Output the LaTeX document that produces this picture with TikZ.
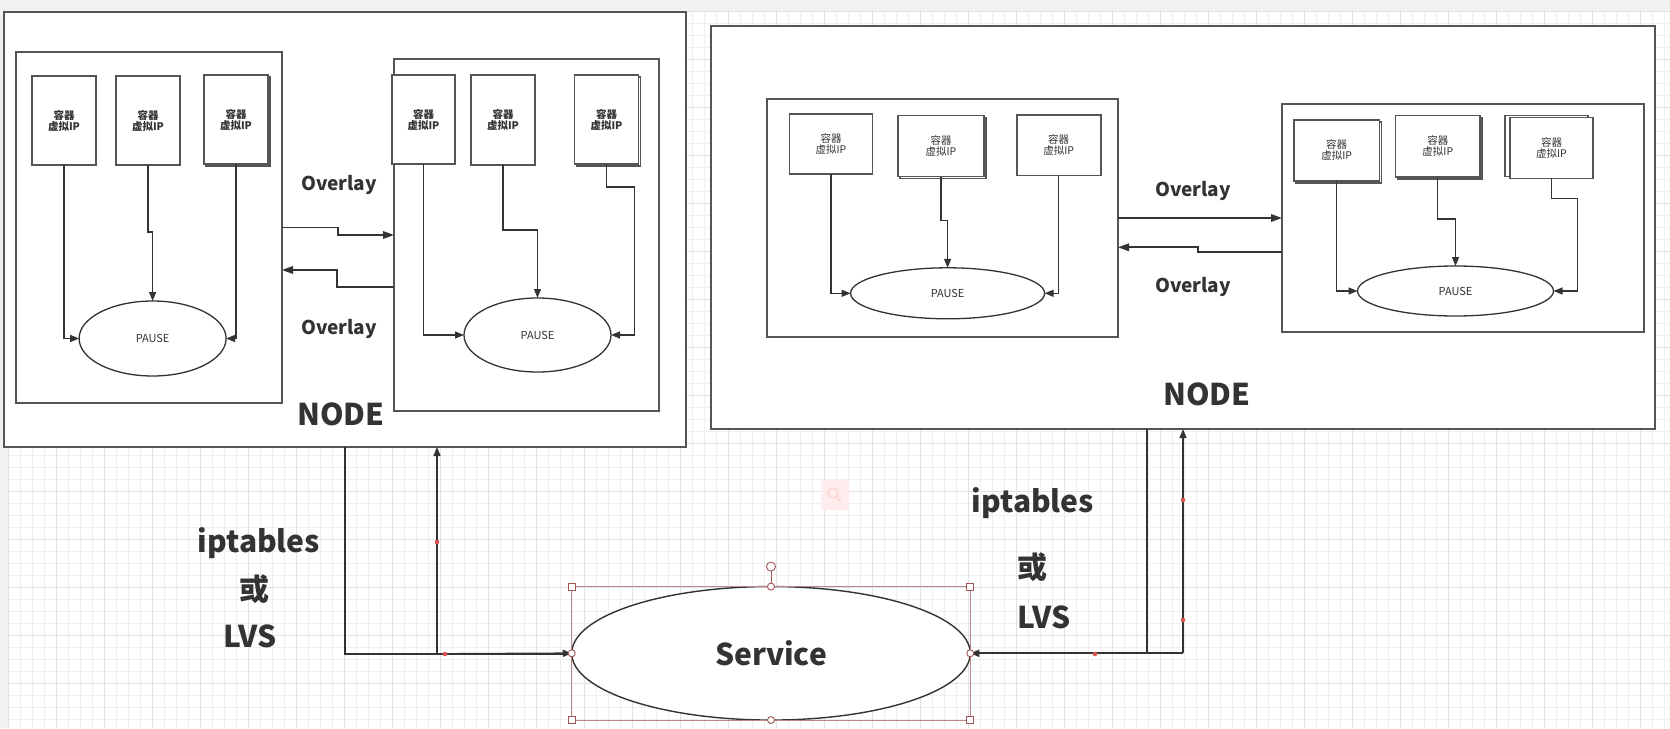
\documentclass[tikz,border=0pt]{standalone}
\usepackage{fontspec}
\setmainfont{Noto Sans CJK SC}
\usetikzlibrary{arrows.meta,shapes.geometric,shadows,calc}

\definecolor{edge}{HTML}{555555}
\definecolor{wire}{HTML}{333333}
\definecolor{ink}{HTML}{333333}
\definecolor{gridmin}{HTML}{EFEFEF}
\definecolor{gridmaj}{HTML}{E2E2E2}
\definecolor{strip}{HTML}{F1F1F1}
\definecolor{selred}{HTML}{A05555}
\definecolor{dotred}{HTML}{D9534F}

\tikzset{
  box/.style={draw=edge, line width=1.8pt, fill=white, inner sep=0pt, outer sep=0pt},
  ctr/.style={box, line width=1.6pt, align=center, text=ink,
    font=\bfseries\fontsize{10.5}{11}\selectfont},
  ctrlight/.style={ctr, font=\fontsize{10.5}{11}\selectfont},
  dup/.style={copy shadow={shadow xshift=2pt, shadow yshift=-2pt, draw=edge}},
  pause/.style={ellipse, draw=wire, line width=1.3pt, fill=white, inner sep=0pt,
    outer sep=0pt, text=ink, font=\fontsize{11}{12}\selectfont},
  link/.style={draw=wire, line width=1.3pt, -{Triangle[length=9pt,width=7pt]}},
  ovl/.style={draw=wire, line width=1.8pt, -{Triangle[length=11pt,width=7.5pt]}},
  ovlab/.style={text=ink, font=\bfseries\fontsize{19}{21}\selectfont},
  biglab/.style={text=ink, font=\bfseries\fontsize{30}{32}\selectfont},
  handle/.style={draw=selred, fill=white, line width=0.9pt, inner sep=0pt, minimum size=7pt},
}

\begin{document}
\begin{tikzpicture}[x=1pt, y=-1pt]
\useasboundingbox (0,0) rectangle (1670,728);
%
% background grid
\fill[strip] (0,0) rectangle (1670,728);
\fill[white] (8.5,11.7) rectangle (1670,728);
\foreach \i in {0,...,138} \draw[gridmin, line width=1pt] ({8.5+12*\i},11.7) -- ({8.5+12*\i},728);
\foreach \j in {0,...,59} \draw[gridmin, line width=1pt] (8.5,{11.7+12*\j}) -- (1670,{11.7+12*\j});
\foreach \i in {0,...,34} \draw[gridmaj, line width=1pt] ({8.5+48*\i},11.7) -- ({8.5+48*\i},728);
\foreach \j in {0,...,14} \draw[gridmaj, line width=1pt] (8.5,{11.7+48*\j}) -- (1670,{11.7+48*\j});
%
% two nodes
\node[box, minimum width=682, minimum height=435] (lnode) at (345,229.5) {};
\node[box, minimum width=944, minimum height=403] (rnode) at (1183,227.5) {};
%
\node[box, minimum width=266, minimum height=351] (podA) at (149,227.5) {};
\node[box, minimum width=265, minimum height=352] (podB) at (526.5,235) {};
\node[box, minimum width=351, minimum height=238] (podC) at (942.5,218) {};
\node[box, minimum width=362, minimum height=228] (podD) at (1463,218) {};
%
% containers
\node[ctr, minimum width=64, minimum height=89] (A1) at (64,120.5) {容器\\虚拟IP};
\node[ctr, minimum width=64, minimum height=89] (A2) at (148,120.5) {容器\\虚拟IP};
\node[ctr, dup, minimum width=64, minimum height=89] (A3) at (236,119.5) {容器\\虚拟IP};
\node[ctr, minimum width=63, minimum height=89] (B1) at (423.5,119.5) {容器\\虚拟IP};
\node[ctr, minimum width=64, minimum height=90] (B2) at (503,120) {容器\\虚拟IP};
\node[ctr, dup, minimum width=64, minimum height=89] (B3) at (606.5,119.5) {容器\\虚拟IP};
\node[ctrlight, minimum width=83, minimum height=60.5] (C1) at (831,144) {容器\\虚拟IP};
\node[ctrlight, dup, minimum width=86, minimum height=61] (C2) at (941,146) {容器\\虚拟IP};
\node[ctrlight, minimum width=84, minimum height=60.7] (C3) at (1058.7,145.3) {容器\\虚拟IP};
\node[ctrlight, dup, minimum width=85.7, minimum height=61] (D1) at (1336.6,150.2) {容器\\虚拟IP};
\node[ctrlight, dup, minimum width=84.4, minimum height=61.3] (D2) at (1437.8,146.3) {容器\\虚拟IP};
\node[ctrlight, minimum width=82.5, minimum height=61,
  copy shadow={shadow xshift=-5pt, shadow yshift=2pt, draw=edge}] (D3) at (1551.5,147.8) {容器\\虚拟IP};
%
\node[pause, minimum width=147, minimum height=75] (PA) at (152.6,338.5) {PAUSE};
\node[pause, minimum width=147, minimum height=74] (PB) at (537.5,335) {PAUSE};
\node[pause, minimum width=194, minimum height=51] (PC) at (947.6,293.3) {PAUSE};
\node[pause, minimum width=196, minimum height=50] (PD) at (1455.5,291) {PAUSE};
%
% container to pause
\draw[link] (A1.south) |- (PA.west);
\draw[link] (A2.south) -- ++(0,67) -| (PA.north);
\draw[link] (A3.south) |- (PA.east);
\draw[link] (B1.south) |- (PB.west);
\draw[link] (B2.south) -- ++(0,65) -| (PB.north);
\draw[link] (B3.south) -- ++(0,23) -- ++(28,0) |- (PB.east);
\draw[link] (C1.south) |- (PC.west);
\draw[link] (C2.south) -- ++(0,44.3) -| (PC.north);
\draw[link] (C3.south) |- (PC.east);
\draw[link] (D1.south) |- (PD.west);
\draw[link] (D2.south) -- ++(0,42) -| (PD.north);
\draw[link] (D3.south) -- ++(0,20) -- ++(26,0) |- (PD.east);
%
% overlay between pods
\draw[ovl] (podA.east) -- ++(56,0) |- (podB.west |- 0,235);
\draw[ovl] (podB.west |- 0,287) -- ++(-57,0) |- (podA.east |- 0,270);
\draw[ovl] (podC.east) -- (podD.west);
\draw[ovl] (podD.west |- 0,252.3) -- ++(-84,0) |- (podC.east |- 0,247.3);
%
\node[ovlab] (ovA) at (339,185) {Overlay};
\node[ovlab] (ovB) at (339,328.7) {Overlay};
\node[ovlab] (ovC) at (1193,190.5) {Overlay};
\node[ovlab] (ovD) at (1193,286.7) {Overlay};
%
\node[biglab] (nodeA) at (341,414) {NODE};
\node[biglab] (nodeB) at (1207,394.2) {NODE};
%
% service
\node[ellipse, draw=wire, line width=1.4pt, fill=white, inner sep=0pt, outer sep=0pt,
  minimum width=398.5, minimum height=133.5, biglab] (svc) at (771,653.3) {Service};
%
\draw[draw=wire, line width=1.5pt] (lnode.south -| 345,0) |- (svc.west |- 0,654) -- (437,654);
\draw[link, line width=1.8pt] (437,654) -- (svc.west);
\draw[link] (svc.west -| 437,0) -- (lnode.south -| 437,0);
\draw[draw=wire, line width=1.5pt] (rnode.south -| 1147,0) -- (svc.east -| 1147,0);
\draw[link, line width=1.8pt] (svc.east -| 1183,0) -- (svc.east);
\draw[link] (svc.east -| 1183,0) -- (rnode.south -| 1183,0);
%
\node[biglab] (ipA) at (259,543) {iptables};
\node[biglab] (orA) at (254,589) {或};
\node[biglab] (lvsA) at (250,636) {LVS};
\node[biglab] (ipB) at (1033,503) {iptables};
\node[biglab] (orB) at (1032,567) {或};
\node[biglab] (lvsB) at (1044,617) {LVS};
%
% editor marks
\foreach \p in {(437,542),(445,654),(1183,500),(1183,620),(1095,654)} \fill[dotred] \p circle (2.3);
\draw[selred!70, line width=0.8pt] (svc.west |- svc.north) rectangle (svc.east |- svc.south);
\draw[selred, line width=1pt] (svc.north) -- ++(0,-16);
\node[handle, circle, minimum size=9pt] (rot) at ($(svc.north)+(0,-20)$) {};
\node[handle] at (svc.west |- svc.north) {};
\node[handle] at (svc.east |- svc.north) {};
\node[handle] at (svc.west |- svc.south) {};
\node[handle] at (svc.east |- svc.south) {};
\foreach \a in {north,south,west,east} \node[handle, circle] at (svc.\a) {};
\fill[red!7, rounded corners=3pt] (821,480) rectangle (849,510);
\draw[red!18, line width=1.2pt] (833,493) circle (5) (837,497) -- (841,502);
\end{tikzpicture}
\end{document}
